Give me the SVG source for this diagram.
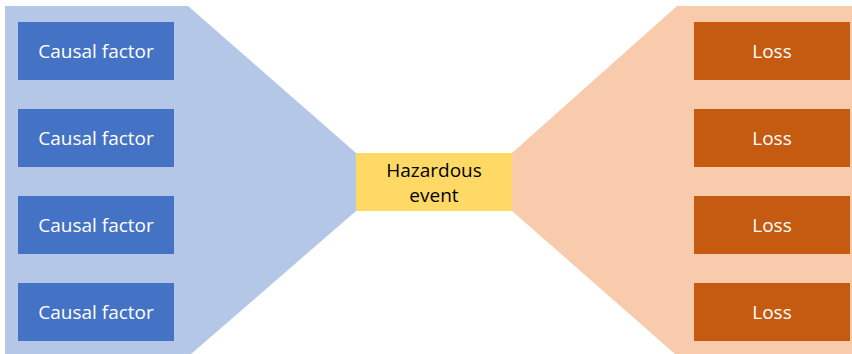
<svg xmlns="http://www.w3.org/2000/svg" width="852" height="354" viewBox="0 0 852 354">
  <style>
    text { font-family: "Open Sans", "Liberation Sans", sans-serif; font-size: 19px; text-anchor: middle; }
    .cause rect { fill: #4472C4; }
    .loss rect { fill: #C55A11; }
    .cause text, .loss text { fill: #FFFFFF; }
    .event text { fill: #000000; }
  </style>
  <rect x="0" y="0" width="852" height="354" fill="#FFFFFF"/>
  <!-- fan-in and fan-out backgrounds -->
  <g id="connectors">
    <polygon points="5,6 188,6 356,153 356,211 191,354 5,354" fill="#B4C7E7"/>
    <polygon points="512,153 677,6 852,6 852,354 675,354 512,211" fill="#F8CBAD"/>
  </g>
  <g id="cause1" class="cause"><rect x="18" y="22" width="156" height="58"/><text x="96" y="58">Causal factor</text></g>
  <g id="cause2" class="cause"><rect x="18" y="109" width="156" height="58"/><text x="96" y="145">Causal factor</text></g>
  <g id="cause3" class="cause"><rect x="18" y="196" width="156" height="58"/><text x="96" y="232">Causal factor</text></g>
  <g id="cause4" class="cause"><rect x="18" y="283" width="156" height="58"/><text x="96" y="319">Causal factor</text></g>
  <g id="event" class="event">
    <rect x="356" y="153" width="156" height="58" fill="#FFD966"/>
    <text x="434" y="177">Hazardous</text>
    <text x="434" y="202">event</text>
  </g>
  <g id="loss1" class="loss"><rect x="694" y="22" width="156" height="58"/><text x="772" y="58">Loss</text></g>
  <g id="loss2" class="loss"><rect x="694" y="109" width="156" height="58"/><text x="772" y="145">Loss</text></g>
  <g id="loss3" class="loss"><rect x="694" y="196" width="156" height="58"/><text x="772" y="232">Loss</text></g>
  <g id="loss4" class="loss"><rect x="694" y="283" width="156" height="58"/><text x="772" y="319">Loss</text></g>
</svg>
